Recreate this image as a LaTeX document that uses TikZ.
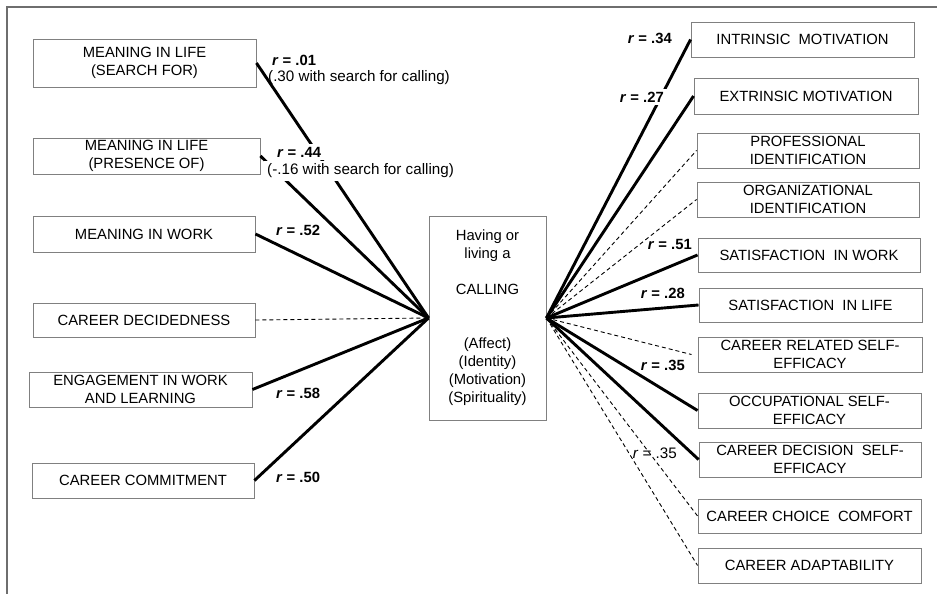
\documentclass[tikz,border=0pt]{standalone}
\usepackage{fontspec}
\setmainfont{Liberation Sans}
\definecolor{boxgray}{HTML}{808080}
\definecolor{framegray}{HTML}{6E6E6E}
\begin{document}
\begin{tikzpicture}[x=1pt,y=-1pt,
  box/.style={draw=boxgray, line width=0.9pt, fill=white, align=center, inner sep=0pt,
    font=\fontsize{14.8}{18}\selectfont},
  conn/.style={line width=2.9pt},
  dconn/.style={line width=0.9pt, dash pattern=on 4pt off 3pt},
  rlab/.style={font=\fontsize{14.8}{18}\selectfont\bfseries, inner sep=1pt},
  tlab/.style={font=\fontsize{15.2}{18}\selectfont, inner sep=1pt},
  wfill/.style={fill=white, inner sep=3pt}]
\useasboundingbox (0,0) rectangle (937,594);
% frame
\draw[framegray, line width=1.2pt] (7,594) -- (7,7) -- (937,7);

% left boxes
\node[box, minimum width=223pt, minimum height=48pt] (ms) at (144.5,63) {MEANING IN LIFE\\(SEARCH FOR)};
\node[box, minimum width=227pt, minimum height=36pt] (mp) at (146.5,156) {MEANING IN LIFE\\(PRESENCE OF)};
\node[box, minimum width=222pt, minimum height=36pt] (mw) at (144,234) {MEANING IN WORK};
\node[box, minimum width=222pt, minimum height=34pt] (cd) at (144,320) {CAREER DECIDEDNESS};
\node[box, minimum width=223pt, minimum height=35pt] (en) at (140.5,389.5) {ENGAGEMENT IN WORK\\AND LEARNING};
\node[box, minimum width=222pt, minimum height=35pt] (cc) at (143,480.5) {CAREER COMMITMENT};

% center box
\node[box, minimum width=117pt, minimum height=204pt] (c) at (487.5,318)
  {Having or\\living a\\[18pt]CALLING\\[36pt](Affect)\\(Identity)\\(Motivation)\\(Spirituality)};

% right boxes
\node[box, minimum width=223pt, minimum height=35pt] (r1) at (802.5,39.5) {INTRINSIC\ \ MOTIVATION};
\node[box, minimum width=224pt, minimum height=36pt] (r2) at (806,96) {EXTRINSIC MOTIVATION};
\node[box, minimum width=222pt, minimum height=35pt] (r3) at (808,150.5) {PROFESSIONAL\\IDENTIFICATION};
\node[box, minimum width=222pt, minimum height=35pt] (r4) at (808,199.5) {ORGANIZATIONAL\\IDENTIFICATION};
\node[box, minimum width=222pt, minimum height=34pt] (r5) at (809,255) {SATISFACTION\ \ IN WORK};
\node[box, minimum width=223pt, minimum height=34pt] (r6) at (810.5,305) {SATISFACTION\ \ IN LIFE};
\node[box, minimum width=224pt, minimum height=35pt] (r7) at (810,354.5) {CAREER RELATED SELF-\\EFFICACY};
\node[box, minimum width=223pt, minimum height=35pt] (r8) at (809.5,410.5) {OCCUPATIONAL SELF-\\EFFICACY};
\node[box, minimum width=222pt, minimum height=35pt] (r9) at (810,459.5) {CAREER DECISION\ \ SELF-\\EFFICACY};
\node[box, minimum width=223pt, minimum height=34pt] (r10) at (809.5,516) {CAREER CHOICE\ \ COMFORT};
\node[box, minimum width=223pt, minimum height=35pt] (r11) at (809.5,565.5) {CAREER ADAPTABILITY};

% left connectors
\draw[conn] (ms.east) -- (c.west);
\draw[conn] (mp.east) -- (c.west);
\draw[conn] (mw.east) -- (c.west);
\draw[dconn] (cd.east) -- (c.west);
\draw[conn] (en.east) -- (c.west);
\draw[conn] (cc.east) -- (c.west);

% right connectors
\draw[conn] (c.east) -- (r1.west);
\draw[conn] (c.east) -- (r2.west);
\draw[dconn] (c.east) -- (r3.west);
\draw[dconn] (c.east) -- (r4.west);
\draw[conn] (c.east) -- (r5.west);
\draw[conn] (c.east) -- (r6.west);
\coordinate (r7end) at ([xshift=-6pt]r7.west);
\draw[dconn] (c.east) -- (r7end);
\draw[conn] (c.east) -- (r8.west);
\draw[conn] (c.east) -- (r9.west);
\draw[dconn] (c.east) -- (r10.west);
\draw[dconn] (c.east) -- (r11.west);

% left labels
\node[rlab, anchor=west] (l01) at (271,60) {\textit{r} = .01};
\node[tlab, anchor=west] (l30) at (267,78) {(.30 with search for calling)};
\node[rlab, anchor=west, wfill] (l44) at (274,152) {\textit{r} = .44};
\node[tlab, anchor=west, wfill] (l16) at (264,171) {(-.16 with search for calling)};
\node[rlab, anchor=west] (l52) at (275,230) {\textit{r} = .52};
\node[rlab, anchor=west] (l58) at (275,393) {\textit{r} = .58};
\node[rlab, anchor=west] (l50) at (275,477) {\textit{r} = .50};

% right labels
\node[rlab, anchor=east] (l34) at (673,38) {\textit{r} = .34};
\node[rlab, anchor=east, wfill] (l27) at (667,97) {\textit{r} = .27};
\node[rlab, anchor=east] (l51) at (693,244) {\textit{r} = .51};
\node[rlab, anchor=east] (l28) at (686,293) {\textit{r} = .28};
\node[rlab, anchor=east] (l35a) at (686,365) {\textit{r} = .35};
\node[tlab, anchor=east] (l35b) at (678,453) {\textit{r} = .35};
\end{tikzpicture}
\end{document}
